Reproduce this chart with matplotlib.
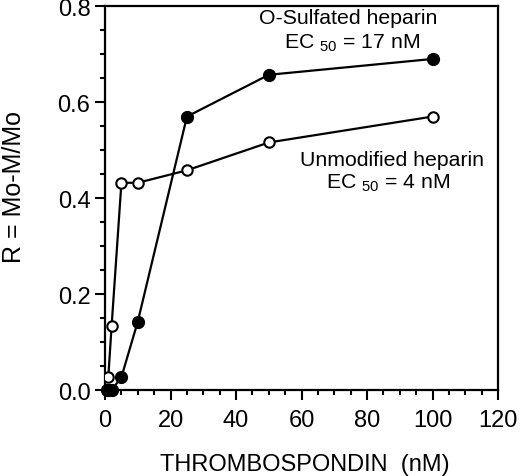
import matplotlib
matplotlib.use('Agg')
import matplotlib.pyplot as plt
from matplotlib.ticker import MultipleLocator

plt.rcParams['font.family'] = ['Liberation Sans', 'DejaVu Sans']
plt.rcParams['mathtext.fontset'] = 'custom'
plt.rcParams['mathtext.rm'] = 'Liberation Sans'

# O-sulfated heparin (filled circles)
tsp_sulf = [0.5, 1, 2, 5, 10, 25, 50, 100]
r_sulf = [0.0, 0.0, 0.0, 0.027, 0.143, 0.570, 0.657, 0.690]

# unmodified heparin (open circles)
tsp_unmod = [1, 2, 5, 10, 25, 50, 100]
r_unmod = [0.028, 0.133, 0.432, 0.432, 0.458, 0.516, 0.570]

fig = plt.figure(figsize=(5.2, 4.77), dpi=100)
ax = fig.add_axes([0.202, 0.180, 0.756, 0.805])

ax.plot(tsp_unmod, r_unmod, '-o', color='black', lw=1.6,
        markerfacecolor='white', markeredgecolor='black',
        markersize=7.5, markeredgewidth=1.5, zorder=3)
ax.plot(tsp_sulf, r_sulf, '-o', color='black', lw=1.6,
        markerfacecolor='black', markersize=8.5, zorder=4, clip_on=False)

ax.set_xlim(0, 120)
ax.set_ylim(0, 0.8)
ax.xaxis.set_major_locator(MultipleLocator(20))
ax.xaxis.set_minor_locator(MultipleLocator(5))
ax.yaxis.set_major_locator(MultipleLocator(0.2))
ax.yaxis.set_minor_locator(MultipleLocator(0.05))
ax.yaxis.set_major_formatter(plt.FormatStrFormatter('%.1f'))

ax.tick_params(which='both', direction='out', width=1.5, top=False, right=False,
               labelsize=17, pad=3.5)
ax.tick_params(axis='x', which='major', pad=6.4)
ax.tick_params(which='major', length=7)
ax.tick_params(which='minor', length=3.5)
for s in ax.spines.values():
    s.set_linewidth(1.6)

fig.text(305 / 520, 1 - 465 / 477, 'THROMBOSPONDIN  (nM)', fontsize=17,
         ha='center', va='center')
fig.text(14 / 520, 1 - 187 / 477, 'R = Mo-M/Mo', fontsize=18, rotation=90,
         ha='center', va='center')

ax.text(74.2, 0.777, 'O-Sulfated heparin', fontsize=15.3, ha='center', va='center')
ax.text(75.4, 0.725, r'EC $_{50}$ = 17 nM', fontsize=15.3, ha='center', va='center')
ax.text(87.6, 0.481, 'Unmodified heparin', fontsize=15.3, ha='center', va='center')
ax.text(86.4, 0.433, r'EC $_{50}$ = 4 nM', fontsize=15.3, ha='center', va='center')

fig.savefig('out.png', dpi=100)
